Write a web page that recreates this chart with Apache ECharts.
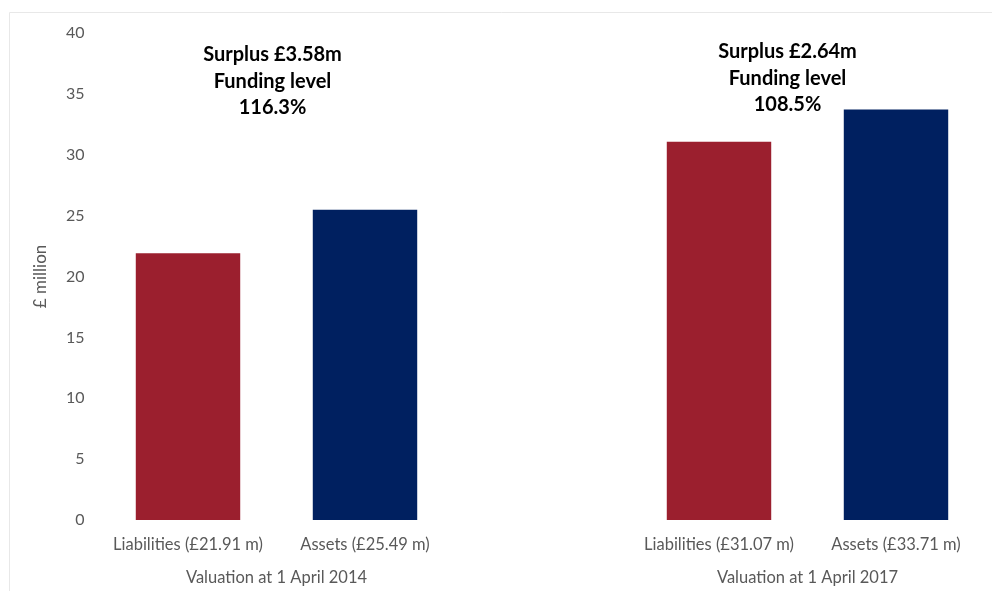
<!DOCTYPE html>
<html>
<head>
<meta charset="utf-8">
<script src="https://cdn.jsdelivr.net/npm/echarts@6/dist/echarts.min.js"></script>
<style>
html,body{margin:0;padding:0;background:#fff;}
#main{width:992px;height:591px;}
</style>
</head>
<body>
<div id="main"></div>
<script>
const categories = ['Liabilities (£21.91 m)', 'Assets (£25.49 m)', '', 'Liabilities (£31.07 m)', 'Assets (£33.71 m)'];
const values = [21.91, 25.49, null, 31.07, 33.71];
const barKinds = ['liab', 'asset', null, 'liab', 'asset'];
const groupLabels = ['Valuation at 1 April 2014', 'Valuation at 1 April 2017'];
const annotations = [
  ['Surplus £3.58m', 'Funding level', '116.3%'],
  ['Surplus £2.64m', 'Funding level', '108.5%']
];
const yTicks = { min: 0, max: 40, interval: 5 };

const colors = { liab: '#9B1F2E', asset: '#002060' };
const FONT = 'Lato, "Open Sans", sans-serif';

const chart = echarts.init(document.getElementById('main'));
chart.setOption({
  animation: false,
  backgroundColor: '#fff',
  grid: { left: 99.5, right: 7.5, top: 33, bottom: 71 },
  xAxis: {
    type: 'category',
    data: categories,
    axisLine: { show: false },
    axisTick: { show: false },
    axisLabel: { color: '#595959', fontSize: 16.5, fontFamily: FONT, margin: 16, interval: 0 }
  },
  yAxis: {
    type: 'value',
    min: yTicks.min, max: yTicks.max, interval: yTicks.interval,
    name: '£ million',
    nameLocation: 'middle',
    nameGap: 50,
    nameTextStyle: { color: '#595959', fontSize: 17, fontFamily: FONT },
    axisLine: { show: false },
    axisTick: { show: false },
    splitLine: { show: false },
    axisLabel: { color: '#595959', fontSize: 16, fontFamily: FONT, margin: 15 }
  },
  series: [{
    type: 'bar',
    barWidth: '59%',
    data: values.map((v, i) => v == null ? '-' : { value: v, itemStyle: { color: colors[barKinds[i]] } })
  }]
});

const px = i => chart.convertToPixel({ xAxisIndex: 0 }, i);
const g1 = (px(0) + px(1)) / 2;
const g2 = (px(3) + px(4)) / 2;
const graphics = [
  { type: 'rect', shape: { x: 9.5, y: 12.5, width: 1000, height: 600 }, style: { fill: 'none', stroke: '#e8e8e8', lineWidth: 1 }, silent: true, z: -1 },
  { type: 'text', x: g1, y: 578, style: { text: groupLabels[0], fill: '#595959', font: '16.5px ' + FONT, textAlign: 'center', textVerticalAlign: 'middle' } },
  { type: 'text', x: g2, y: 578, style: { text: groupLabels[1], fill: '#595959', font: '16.5px ' + FONT, textAlign: 'center', textVerticalAlign: 'middle' } }
];
const annPos = [[g1 - 4, 55], [g2 - 20, 52]];
annotations.forEach((lines, k) => {
  lines.forEach((t, j) => {
    graphics.push({ type: 'text', x: annPos[k][0], y: annPos[k][1] + j * 26.3,
      style: { text: t, fill: '#000', font: 'bold 20px ' + FONT, textAlign: 'center', textVerticalAlign: 'middle' } });
  });
});
chart.setOption({ graphic: graphics });
</script>
</body>
</html>
